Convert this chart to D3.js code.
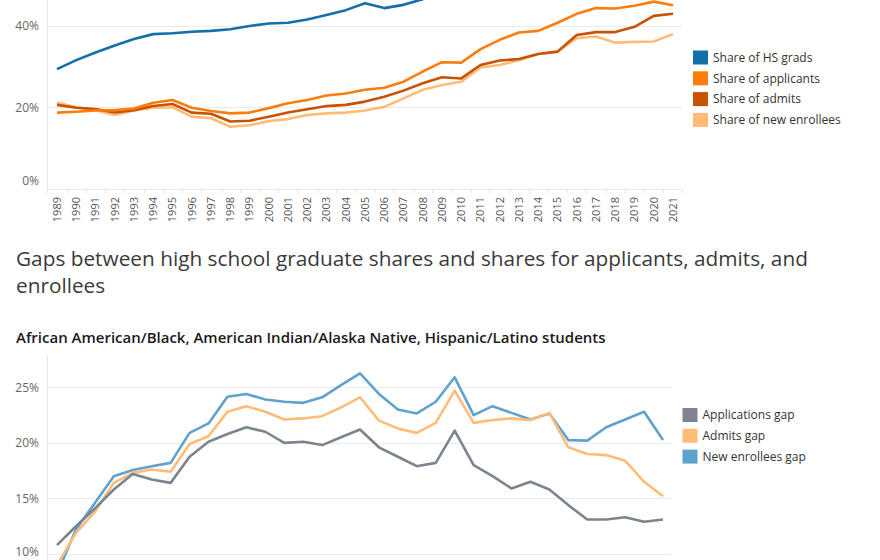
<!DOCTYPE html>
<html>
<head>
<meta charset="utf-8">
<script src="https://cdn.jsdelivr.net/npm/d3@7"></script>
<style>
  html, body { margin: 0; padding: 0; background: #fff; }
  svg { display: block; font-family: "Open Sans", sans-serif; }
</style>
</head>
<body>
<svg id="chart" width="880" height="560"></svg>
<script>
// Categories
const years = [1989, 1990, 1991, 1992, 1993, 1994, 1995, 1996, 1997, 1998, 1999,
  2000, 2001, 2002, 2003, 2004, 2005, 2006, 2007, 2008, 2009, 2010, 2011, 2012,
  2013, 2014, 2015, 2016, 2017, 2018, 2019, 2020, 2021];

// Top chart: shares (%)
const hsGrads = [29.4, 31.6, 33.5, 35.2, 36.8, 38.0, 38.2, 38.6, 38.8, 39.2, 40.0,
  40.6, 40.8, 41.6, 42.7, 43.9, 45.6, 44.4, 45.2, 46.6, 49.3, 52.1, 52.3, 53.6,
  54.3, 55.3, 56.6, 57.4, 57.5, 57.4, 58.3, 58.9, 58.2];
const applicants = [18.7, 18.9, 19.2, 19.3, 19.7, 21.1, 21.8, 19.9, 19.1, 18.5, 18.7,
  19.8, 21.0, 21.8, 22.9, 23.4, 24.3, 24.8, 26.3, 28.8, 31.1, 31.0, 34.3, 36.6,
  38.4, 38.8, 40.8, 43.0, 44.4, 44.3, 45.0, 46.0, 45.1];
const admits = [20.6, 19.9, 19.6, 18.7, 19.3, 20.3, 20.8, 18.7, 18.4, 16.5, 16.7,
  17.7, 18.7, 19.5, 20.3, 20.6, 21.4, 22.6, 24.1, 25.9, 27.4, 27.1, 30.4, 31.5,
  31.9, 33.1, 33.7, 37.8, 38.5, 38.5, 39.8, 42.5, 43.0];
const enrollees = [21.2, 20.0, 19.3, 18.1, 19.2, 19.9, 20.0, 17.7, 17.3, 15.2, 15.6,
  16.6, 17.1, 18.1, 18.5, 18.7, 19.2, 20.1, 22.2, 24.3, 25.5, 26.3, 29.8, 30.4,
  31.6, 33.1, 33.7, 37.0, 37.4, 35.9, 36.1, 36.2, 38.0];

// Bottom chart: gaps (%)
const applicationsGap = [10.8, 12.5, 14.1, 15.8, 17.2, 16.7, 16.4, 18.75, 20.1, 20.8, 21.4,
  21.0, 20.0, 20.1, 19.8, 20.5, 21.2, 19.6, 18.75, 17.9, 18.2, 21.1, 18.0, 17.0,
  15.9, 16.5, 15.8, 14.4, 13.1, 13.1, 13.3, 12.9, 13.1];
const admitsGap = [9.0, 11.9, 13.8, 16.4, 17.3, 17.6, 17.4, 19.9, 20.6, 22.8, 23.3,
  22.8, 22.1, 22.2, 22.4, 23.2, 24.1, 22.0, 21.3, 20.9, 21.8, 24.7, 21.8, 22.05,
  22.2, 22.05, 22.7, 19.6, 19.0, 18.9, 18.4, 16.5, 15.2];
const enrolleesGap = [8.2, 12.2, 14.6, 17.0, 17.55, 17.9, 18.2, 20.9, 21.75, 24.15, 24.4,
  23.9, 23.7, 23.6, 24.1, 25.2, 26.25, 24.4, 23.0, 22.65, 23.7, 25.9, 22.5, 23.3,
  22.7, 22.1, 22.65, 20.25, 20.2, 21.4, 22.1, 22.8, 20.25];

const topTicks = [0, 20, 40];
const bottomTicks = [10, 15, 20, 25];

const topSeries = [
  { name: 'Share of new enrollees', values: enrollees, color: '#ffbc79' },
  { name: 'Share of admits', values: admits, color: '#c85200' },
  { name: 'Share of applicants', values: applicants, color: '#fc7d0b' },
  { name: 'Share of HS grads', values: hsGrads, color: '#1170aa' }
];
const topLegendOrder = ['Share of HS grads', 'Share of applicants', 'Share of admits', 'Share of new enrollees'];

const bottomSeries = [
  { name: 'New enrollees gap', values: enrolleesGap, color: '#5fa2ce' },
  { name: 'Admits gap', values: admitsGap, color: '#ffbc79' },
  { name: 'Applications gap', values: applicationsGap, color: '#7b848f' }
];
const bottomLegendOrder = ['Applications gap', 'Admits gap', 'New enrollees gap'];

const svg = d3.select('#chart');

// Draw one line panel
function drawPanel(opts) {
  const g = svg.append('g');
  const x = d3.scalePoint().domain(years).range(opts.xRange);
  const y = d3.scaleLinear().domain(opts.yDomain).range(opts.yRange);

  // gridlines
  g.selectAll('.grid')
    .data(opts.ticks)
    .enter().append('line')
      .attr('x1', opts.axisX)
      .attr('x2', opts.plotRight)
      .attr('y1', d => Math.round(y(d)) + 0.5)
      .attr('y2', d => Math.round(y(d)) + 0.5)
      .attr('stroke', '#ececec')
      .attr('stroke-width', 1);

  // vertical axis line
  g.append('line')
    .attr('x1', opts.axisX + 0.5).attr('x2', opts.axisX + 0.5)
    .attr('y1', opts.axisTop).attr('y2', opts.axisBottom)
    .attr('stroke', '#e4e4e4');

  // y tick labels
  g.selectAll('.ylab')
    .data(opts.ticks)
    .enter().append('text')
      .attr('x', 39)
      .attr('y', d => (opts.labelShift && opts.labelShift[d]) ? y(d) + opts.labelShift[d] : y(d))
      .attr('dy', '0.35em')
      .attr('text-anchor', 'end')
      .attr('font-size', 12)
      .attr('fill', '#666')
      .text(d => d + '%');

  const line = d3.line()
    .x((d, i) => x(years[i]))
    .y(d => y(d));

  g.selectAll('.series')
    .data(opts.series)
    .enter().append('path')
      .attr('d', d => line(d.values))
      .attr('fill', 'none')
      .attr('stroke', d => d.color)
      .attr('stroke-width', 2.6)
      .attr('stroke-linejoin', 'round');

  // legend
  const byName = new Map(opts.series.map(s => [s.name, s]));
  const lg = g.append('g').attr('transform', `translate(${opts.legendX},${opts.legendY})`);
  opts.legendOrder.forEach((name, i) => {
    const s = byName.get(name);
    const row = lg.append('g').attr('transform', `translate(0,${i * opts.legendStep})`);
    row.append('rect')
      .attr('x', 0).attr('y', -7)
      .attr('width', 15).attr('height', 14)
      .attr('fill', s.color);
    row.append('text')
      .attr('x', 20).attr('y', 0)
      .attr('dy', '0.35em')
      .attr('font-size', 12)
      .attr('fill', '#333')
      .text(name);
  });

  return { x, y, g };
}

// Top chart
const topPanel = drawPanel({
  xRange: [57, 673],
  yDomain: [0, 40],
  yRange: [188.6, 26],
  ticks: topTicks,
  labelShift: { 0: -8 },
  axisX: 47,
  plotRight: 682,
  axisTop: 0,
  axisBottom: 189,
  series: topSeries,
  legendOrder: topLegendOrder,
  legendX: 693,
  legendY: 57.5,
  legendStep: 20.8
});

// year header separators and rotated year labels
const sepX = years.slice(1).map((yr, i) => (topPanel.x(yr) + topPanel.x(years[i])) / 2);
topPanel.g.selectAll('.sep')
  .data([47].concat(sepX).concat([682]))
  .enter().append('line')
    .attr('x1', d => Math.round(d) + 0.5).attr('x2', d => Math.round(d) + 0.5)
    .attr('y1', 189).attr('y2', 193)
    .attr('stroke', '#e4e4e4');

topPanel.g.selectAll('.xlab')
  .data(years)
  .enter().append('text')
    .attr('transform', d => `translate(${topPanel.x(d)},197) rotate(-90)`)
    .attr('text-anchor', 'end')
    .attr('dy', '0.35em')
    .attr('font-size', 11)
    .attr('fill', '#555')
    .text(d => d);

// Titles for the gap chart
svg.append('text')
  .attr('x', 16).attr('y', 266)
  .attr('font-size', 20.8)
  .attr('fill', '#3a3a3a')
  .text('Gaps between high school graduate shares and shares for applicants, admits, and');
svg.append('text')
  .attr('x', 16).attr('y', 293)
  .attr('font-size', 20.8)
  .attr('fill', '#3a3a3a')
  .text('enrollees');
svg.append('text')
  .attr('x', 16).attr('y', 342.5)
  .attr('font-size', 15)
  .attr('font-weight', 600)
  .attr('fill', '#1a1a1a')
  .text('African American/Black, American Indian/Alaska Native, Hispanic/Latino students');

// Bottom chart
drawPanel({
  xRange: [57, 663],
  yDomain: [10, 25],
  yRange: [554, 387.3],
  ticks: bottomTicks,
  labelShift: { 10: -2 },
  axisX: 47,
  plotRight: 671,
  axisTop: 356,
  axisBottom: 560,
  series: bottomSeries,
  legendOrder: bottomLegendOrder,
  legendX: 682.5,
  legendY: 415,
  legendStep: 20.8
});
</script>
</body>
</html>
